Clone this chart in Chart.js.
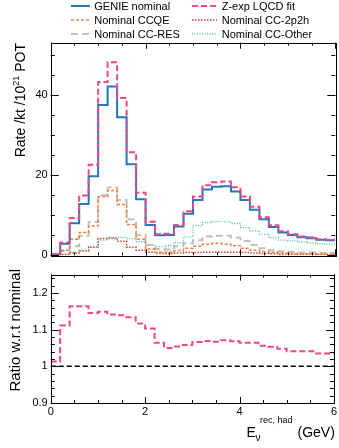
<!DOCTYPE html>
<html>
<head>
<meta charset="utf-8">
<script src="https://cdn.jsdelivr.net/npm/chart.js@4.4.0/dist/chart.umd.min.js"></script>
<style>
  html, body { margin: 0; padding: 0; background: #fff; }
  body { width: 339px; height: 448px; position: relative; overflow: hidden;
         font-family: "Liberation Sans", Arial, Helvetica, sans-serif; color: #000; }
  .box { position: absolute; left: 0; width: 339px; }
  #topBox { top: 0; height: 265px; }
  #ratioBox { top: 265px; height: 183px; }
  .legText { position: absolute; font-size: 11px; line-height: 12px; white-space: nowrap; }
  .legLine { position: absolute; }
  .ytitle { position: absolute; white-space: nowrap; line-height: 16px;
            transform-origin: 0 0; transform: rotate(-90deg) translateX(-100%); }
  .xt { position: absolute; white-space: nowrap; }
  .xt.main { font-size: 14px; line-height: 16px; top: 424px; }
  .xt.small { font-size: 9px; line-height: 10px; }
  sup.small { font-size: 9px; vertical-align: 6px; line-height: 0; }
</style>
</head>
<body>
<div id="topBox" class="box"><canvas id="rateChart"></canvas></div>
<div id="ratioBox" class="box"><canvas id="ratioChart"></canvas></div>
<div id="legend"></div>
<div class="ytitle" style="left:12px; top:43px; font-size:14px;">Rate /kt /10<sup class="small">21</sup> POT</div>
<div class="ytitle" style="left:7px; top:269px; font-size:15px;">Ratio w.r.t nominal</div>
<div id="xtitle">
  <span class="xt main" style="left:246.5px;">E</span>
  <span class="xt small" style="left:260px; top:415px;">rec, had</span>
  <span class="xt small" style="left:255.5px; top:433px; font-size:10px;">ν</span>
  <span class="xt main" style="left:297.5px;">(GeV)</span>
</div>
<script>
// low edges of the 0.2 GeV bins, last edge at 6 GeV
const binLow = [0.0, 0.2, 0.4, 0.6, 0.8, 1.0, 1.2, 1.4, 1.6, 1.8,
                2.0, 2.2, 2.4, 2.6, 2.8, 3.0, 3.2, 3.4, 3.6, 3.8,
                4.0, 4.2, 4.4, 4.6, 4.8, 5.0, 5.2, 5.4, 5.6, 5.8];
const binEnd = 6;

const genieNominal = [0.3, 2.9, 8.0, 12.8, 19.7, 37.5, 42.1, 34.4, 22.7, 14.0,
                      7.6, 5.0, 5.1, 7.2, 10.4, 13.8, 16.4, 17.1, 17.2, 15.9,
                      13.8, 11.4, 9.0, 7.1, 5.7, 5.1, 4.5, 4.3, 3.9, 3.8];
const zexpFit = [0.3, 3.2, 9.3, 14.9, 22.6, 43.2, 48.1, 39.2, 25.7, 15.6,
                 8.4, 5.3, 5.4, 7.6, 11.0, 14.7, 17.5, 18.2, 18.4, 17.0,
                 14.7, 12.1, 9.5, 7.5, 6.0, 5.3, 4.7, 4.5, 4.0, 3.9];
const ccqe = [0.1, 1.3, 4.0, 5.7, 7.3, 14.6, 16.2, 12.7, 7.7, 4.0,
              1.6, 0.8, 0.8, 1.2, 1.8, 2.3, 2.8, 3.0, 2.8, 2.4,
              1.8, 1.3, 1.0, 0.8, 0.6, 0.5, 0.4, 0.4, 0.3, 0.3];
const cc2p2h = [0.0, 0.2, 0.6, 1.1, 2.1, 4.2, 4.3, 3.5, 2.0, 1.3,
                0.8, 0.5, 0.5, 0.6, 0.7, 0.7, 0.8, 0.8, 0.8, 0.8,
                0.7, 0.6, 0.5, 0.4, 0.3, 0.3, 0.2, 0.2, 0.2, 0.2];
const ccres = [0.1, 1.1, 2.3, 4.9, 8.3, 15.0, 16.9, 13.8, 9.0, 5.1,
               2.6, 1.6, 1.5, 2.3, 3.0, 3.8, 4.7, 4.9, 4.9, 4.4,
               3.6, 2.6, 1.8, 1.3, 1.0, 0.9, 0.7, 0.7, 0.6, 0.6];
const ccother = [0.1, 0.3, 0.8, 1.3, 2.0, 3.8, 4.5, 4.5, 4.2, 3.4,
                 2.6, 2.2, 2.4, 3.2, 4.6, 7.4, 8.2, 8.4, 8.4, 7.9,
                 6.9, 6.1, 5.3, 4.4, 3.8, 3.6, 3.3, 3.1, 2.9, 2.8];
const ratioZexp = [1.013, 1.111, 1.164, 1.164, 1.145, 1.149, 1.141, 1.139, 1.134, 1.117,
                   1.103, 1.064, 1.050, 1.054, 1.058, 1.066, 1.069, 1.067, 1.071, 1.068,
                   1.064, 1.064, 1.056, 1.053, 1.048, 1.041, 1.041, 1.041, 1.035, 1.035];
const ratioUnity = 1;

const xTickLabels = [0, 2, 4, 6];
const rateTickLabels = [0, 20, 40];
const ratioTickLabels = [0.9, 1, 1.1, 1.2];

const FONT = '"Liberation Sans", Arial, Helvetica, sans-serif';

// line styles per series
const styles = {
  nominal: { label: 'GENIE nominal',    color: 'rgb(32,121,189)', width: 2,   dash: [] },
  zexp:    { label: 'Z-exp LQCD fit',   color: 'rgb(240,72,132)', width: 2,   dash: [6, 3] },
  ccqe:    { label: 'Nominal CCQE',     color: 'rgb(243,128,58)', width: 1.5, dash: [3, 2] },
  cc2p2h:  { label: 'Nominal CC-2p2h',  color: 'rgb(212,66,36)',  width: 1.5, dash: [1.5, 1.5] },
  ccres:   { label: 'Nominal CC-RES',   color: 'rgb(192,192,192)', width: 2,  dash: [7, 4] },
  ccother: { label: 'Nominal CC-Other', color: 'rgb(70,190,168)', width: 1.3, dash: [1, 1.5] }
};

function toSteps(values) {
  const pts = values.map((v, i) => ({ x: binLow[i], y: v }));
  pts.push({ x: binEnd, y: values[values.length - 1] });
  return pts;
}

function histSet(values, st, order) {
  return {
    data: toSteps(values), stepped: 'before', order: order,
    borderColor: st.color, borderWidth: st.width, borderDash: st.dash,
    pointRadius: 0, fill: false, tension: 0
  };
}

// ROOT-like frame with inward ticks on all four sides
const frameTicks = {
  id: 'frameTicks',
  afterDatasetsDraw(chart, args, o) {
    const { ctx, chartArea: a } = chart;
    const xs = chart.scales.x, ys = chart.scales.y;
    ctx.save();
    ctx.strokeStyle = '#000';
    ctx.lineWidth = 1;
    ctx.beginPath();
    const tickX = (v, len) => {
      const px = Math.round(xs.getPixelForValue(v)) + 0.5;
      ctx.moveTo(px, a.bottom); ctx.lineTo(px, a.bottom - len);
      ctx.moveTo(px, a.top); ctx.lineTo(px, a.top + len);
    };
    const tickY = (v, len) => {
      const py = Math.round(ys.getPixelForValue(v)) + 0.5;
      ctx.moveTo(a.left, py); ctx.lineTo(a.left + len, py);
      ctx.moveTo(a.right, py); ctx.lineTo(a.right - len, py);
    };
    for (let i = 0; ; i++) {
      const v = xs.min + i * o.xMinor;
      if (v > xs.max + 1e-9) break;
      tickX(v, o.xMinorLen);
    }
    o.xMajor.forEach(v => tickX(v, o.xMajorLen));
    for (let i = 0; ; i++) {
      const v = ys.min + i * o.yMinor;
      if (v > ys.max + 1e-9) break;
      tickY(v, o.yMinorLen);
    }
    o.yMajor.forEach(v => tickY(v, o.yMajorLen));
    ctx.stroke();
    ctx.strokeRect(Math.round(a.left) + 0.5, Math.round(a.top) + 0.5,
                   Math.round(a.right - a.left), Math.round(a.bottom - a.top));
    ctx.restore();
  }
};

const tickFont = { family: FONT, size: 11 };

new Chart(document.getElementById('rateChart'), {
  type: 'line',
  data: {
    datasets: [
      histSet(zexpFit, styles.zexp, 0),
      histSet(genieNominal, styles.nominal, 1),
      histSet(ccqe, styles.ccqe, 2),
      histSet(cc2p2h, styles.cc2p2h, 3),
      histSet(ccres, styles.ccres, 4),
      histSet(ccother, styles.ccother, 5)
    ]
  },
  options: {
    responsive: true, maintainAspectRatio: false, animation: false,
    layout: { padding: { top: 42.7, right: 3.7, bottom: 3, left: 0 } },
    plugins: {
      legend: { display: false }, tooltip: { enabled: false },
      frameTicks: { xMajor: xTickLabels, xMinor: 0.5, xMajorLen: 6, xMinorLen: 3,
                    yMajor: rateTickLabels, yMinor: 5, yMajorLen: 8, yMinorLen: 4 }
    },
    scales: {
      x: {
        type: 'linear', min: 0, max: 6,
        grid: { display: false }, border: { display: false },
        ticks: { display: false },
        afterFit: s => { s.height = 0; }
      },
      y: {
        min: 0, max: 53,
        grid: { display: false, drawTicks: false }, border: { display: false },
        afterBuildTicks: s => { s.ticks = rateTickLabels.map(v => ({ value: v })); },
        afterFit: s => { s.width = 50.7; },
        ticks: { padding: 3, color: '#000', font: tickFont, callback: v => String(v) }
      }
    }
  },
  plugins: [frameTicks]
});

new Chart(document.getElementById('ratioChart'), {
  type: 'line',
  data: {
    datasets: [
      histSet(ratioZexp, styles.zexp, 0),
      {
        data: [{ x: 0, y: ratioUnity }, { x: binEnd, y: ratioUnity }], order: 1,
        borderColor: '#000', borderWidth: 1.5, borderDash: [5, 3], pointRadius: 0, fill: false
      }
    ]
  },
  options: {
    responsive: true, maintainAspectRatio: false, animation: false,
    layout: { padding: { top: 3.3, right: 3.7, bottom: 0, left: 0 } },
    plugins: {
      legend: { display: false }, tooltip: { enabled: false },
      frameTicks: { xMajor: xTickLabels, xMinor: 0.5, xMajorLen: 6, xMinorLen: 3,
                    yMajor: ratioTickLabels, yMinor: 0.02, yMajorLen: 8, yMinorLen: 4 }
    },
    scales: {
      x: {
        type: 'linear', min: 0, max: 6,
        grid: { display: false, drawTicks: false }, border: { display: false },
        afterBuildTicks: s => { s.ticks = xTickLabels.map(v => ({ value: v })); },
        afterFit: s => { s.height = 45; },
        ticks: { padding: 2, color: '#000', font: tickFont, maxRotation: 0, autoSkip: false,
                 callback: v => String(v) }
      },
      y: {
        min: 0.9, max: 1.25,
        grid: { display: false, drawTicks: false }, border: { display: false },
        afterBuildTicks: s => { s.ticks = ratioTickLabels.map(v => ({ value: v })); },
        afterFit: s => { s.width = 50.7; },
        ticks: { padding: 3, color: '#000', font: tickFont, callback: v => String(v) }
      }
    }
  },
  plugins: [frameTicks]
});

// two-column legend above the top frame
const legendRows = [
  ['nominal', 'zexp'],
  ['ccqe', 'cc2p2h'],
  ['ccres', 'ccother']
];
const legendCols = [
  { lineX: 70.7, lineW: 19.5, textX: 94.3 },
  { lineX: 191.7, lineW: 25, textX: 221.7 }
];
const legendRowY = [6, 20, 34];
const legendEl = document.getElementById('legend');
legendRows.forEach((row, r) => {
  row.forEach((key, c) => {
    const st = styles[key], col = legendCols[c], y = legendRowY[r];
    const svgNS = 'http://www.w3.org/2000/svg';
    const svg = document.createElementNS(svgNS, 'svg');
    svg.setAttribute('class', 'legLine');
    svg.setAttribute('width', col.lineW);
    svg.setAttribute('height', 6);
    svg.style.left = col.lineX + 'px';
    svg.style.top = (y - 3) + 'px';
    const ln = document.createElementNS(svgNS, 'line');
    ln.setAttribute('x1', 0); ln.setAttribute('y1', 3);
    ln.setAttribute('x2', col.lineW); ln.setAttribute('y2', 3);
    ln.setAttribute('stroke', st.color);
    ln.setAttribute('stroke-width', st.width);
    if (st.dash.length) ln.setAttribute('stroke-dasharray', st.dash.join(' '));
    svg.appendChild(ln);
    legendEl.appendChild(svg);
    const t = document.createElement('div');
    t.className = 'legText';
    t.textContent = st.label;
    t.style.left = col.textX + 'px';
    t.style.top = (y - 6) + 'px';
    legendEl.appendChild(t);
  });
});
</script>
</body>
</html>
